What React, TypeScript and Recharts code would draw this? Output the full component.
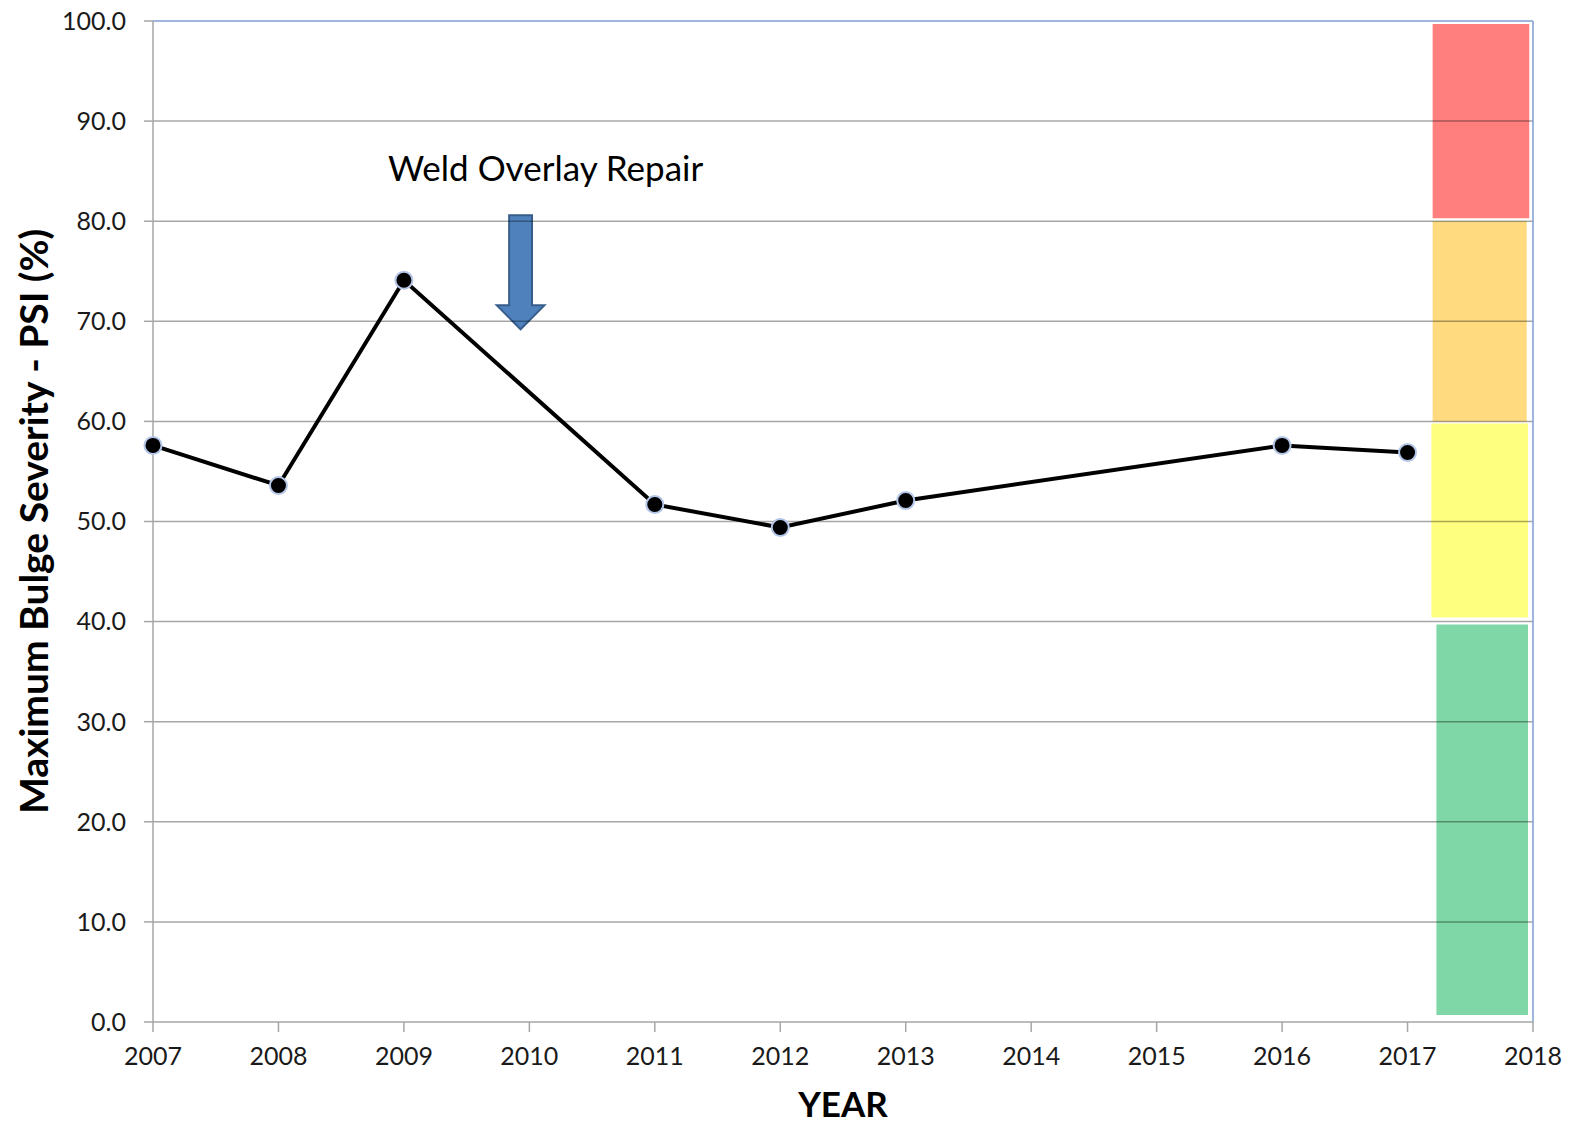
import { LineChart, Line, XAxis, YAxis, ReferenceArea, ReferenceLine, ReferenceDot } from 'recharts';

// Inspection years and measured maximum bulge severity (PSI %)
const years = [2007, 2008, 2009, 2011, 2012, 2013, 2016, 2017];
const severity = [57.6, 53.6, 74.1, 51.7, 49.4, 52.1, 57.6, 56.9];

const yearTicks = [2007, 2008, 2009, 2010, 2011, 2012, 2013, 2014, 2015, 2016, 2017, 2018];
const severityTicks = [0, 10, 20, 30, 40, 50, 60, 70, 80, 90, 100];

// Severity zones shown as a colour strip at the right edge
const zoneNames = ['critical', 'high', 'moderate', 'low'];
const zoneLow = [80.3, 60.0, 40.4, 0.7];
const zoneHigh = [99.7, 80.0, 59.8, 39.7];
const zoneStart = [2017.2, 2017.2, 2017.19, 2017.23];
const zoneEnd = [2017.97, 2017.95, 2017.96, 2017.96];
const zoneColors = ['#ff7f7f', '#ffda7f', '#ffff7f', '#7fd7a7'];

// Repair annotation: arrow spans these years/values, label sits above
const repairLabel = 'Weld Overlay Repair';
const arrowYears = [2009.74, 2010.12];
const arrowValues = [69.2, 80.6];
const labelYear = 2010.13;
const labelValue = 85.3;

const chartData = years.map((year, i) => ({ year, value: severity[i] }));

const FONT = 'Lato, "Noto Sans", sans-serif';

function DownArrow(props: any) {
  const { x, y, width, height } = props;
  const shaftL = x + width * 0.26;
  const shaftR = x + width * 0.74;
  const headTop = y + height * 0.79;
  const pts = [
    [shaftL, y],
    [shaftR, y],
    [shaftR, headTop],
    [x + width, headTop],
    [x + width / 2, y + height],
    [x, headTop],
    [shaftL, headTop],
  ]
    .map((p) => p.join(','))
    .join(' ');
  return <polygon points={pts} fill="#4f81bd" stroke="#385d8a" strokeWidth={2} strokeLinejoin="miter" />;
}

function SeverityDot(props: any) {
  const { cx, cy } = props;
  return <circle cx={cx} cy={cy} r={8.5} fill="#000" stroke="#b4c6e7" strokeWidth={2} />;
}

function YTitle(props: any) {
  const { viewBox } = props;
  const cx = viewBox.x + 33;
  const cy = viewBox.y + viewBox.height / 2;
  return (
    <text
      x={cx}
      y={cy}
      transform={`rotate(-90 ${cx} ${cy})`}
      textAnchor="middle"
      dominantBaseline="central"
      fontFamily={FONT}
      fontWeight="bold"
      fontSize={39}
      fill="#000"
    >
      Maximum Bulge Severity - PSI (%)
    </text>
  );
}

export default function App() {
  return (
    <div style={{ position: 'absolute', left: 0, top: 0, width: 1573, height: 1126, background: '#fff', fontFamily: FONT }}>
      <LineChart width={1573} height={1126} data={chartData} margin={{ top: 21, right: 40, left: 0, bottom: 0 }}>
        <XAxis
          dataKey="year"
          type="number"
          domain={[2007, 2018]}
          ticks={yearTicks}
          height={104}
          tickSize={10}
          tickMargin={15}
          stroke="#a6a6a6"
          strokeWidth={1.5}
          tick={{ fill: '#1a1a1a', fontSize: 25, fontFamily: FONT }}
          label={{ value: 'YEAR', position: 'insideBottom', offset: 9, fill: '#000', fontSize: 35, fontWeight: 'bold', fontFamily: FONT }}
        />
        <YAxis
          type="number"
          domain={[0, 100]}
          ticks={severityTicks}
          width={153}
          tickSize={9}
          tickMargin={18}
          stroke="#a6a6a6"
          strokeWidth={1.5}
          tickFormatter={(v: number) => v.toFixed(1)}
          tick={{ fill: '#1a1a1a', fontSize: 25, fontFamily: FONT }}
          label={<YTitle />}
        />
        {zoneNames.map((name, i) => (
          <ReferenceArea
            key={name}
            x1={zoneStart[i]}
            x2={zoneEnd[i]}
            y1={zoneLow[i]}
            y2={zoneHigh[i]}
            fill={zoneColors[i]}
            fillOpacity={1}
            stroke="none"
          />
        ))}
        {severityTicks.slice(1, -1).map((v) => (
          <ReferenceLine key={v} y={v} stroke="#000" strokeOpacity={0.35} strokeWidth={1.5} />
        ))}
        <ReferenceLine y={100} stroke="#7f9fd0" strokeWidth={1.5} />
        <ReferenceLine x={2018} stroke="#7f9fd0" strokeWidth={1.5} />
        <ReferenceArea
          x1={arrowYears[0]}
          x2={arrowYears[1]}
          y1={arrowValues[0]}
          y2={arrowValues[1]}
          shape={<DownArrow />}
        />
        <ReferenceDot
          x={labelYear}
          y={labelValue}
          r={0}
          fill="none"
          stroke="none"
          label={{ value: repairLabel, position: 'center', fill: '#000', fontSize: 35, fontFamily: FONT }}
        />
        <Line
          type="linear"
          dataKey="value"
          stroke="#000"
          strokeWidth={4}
          dot={<SeverityDot />}
          activeDot={false}
          isAnimationActive={false}
        />
      </LineChart>
    </div>
  );
}
